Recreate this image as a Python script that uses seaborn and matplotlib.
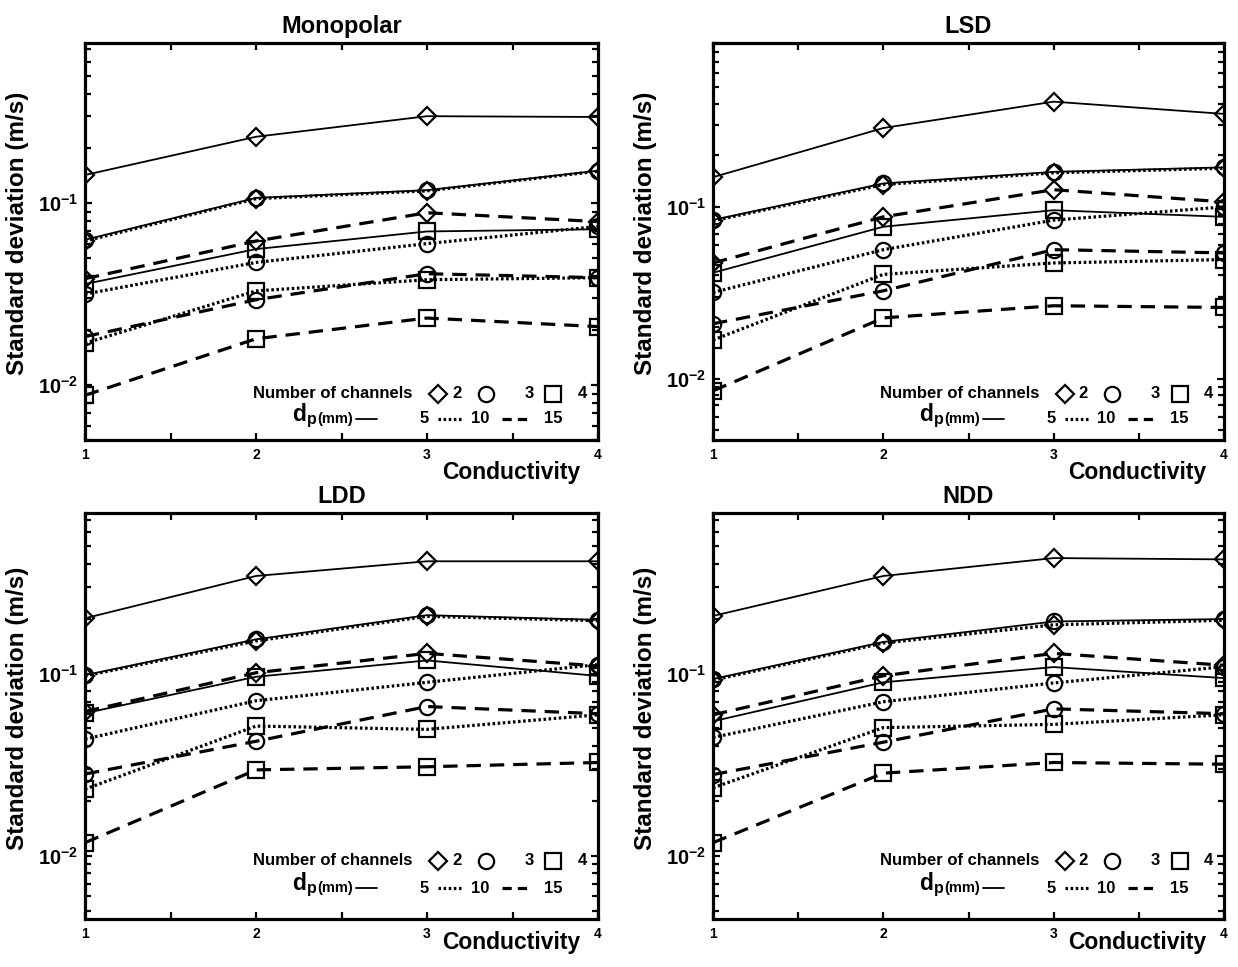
import matplotlib
matplotlib.use("Agg")
import matplotlib.pyplot as plt
import seaborn as sns
from matplotlib.lines import Line2D
from matplotlib.ticker import FixedLocator, FixedFormatter, NullFormatter

conductivity = [1, 2, 3, 4]

# standard deviation (m/s) per electrode config, channels (c) and dp in mm (d)
mono_c2_d5 = [0.143, 0.232, 0.301, 0.298]
mono_c3_d5 = [0.063, 0.107, 0.118, 0.151]
mono_c4_d5 = [0.036, 0.056, 0.070, 0.072]
mono_c2_d10 = [0.062, 0.106, 0.117, 0.150]
mono_c3_d10 = [0.0317, 0.0473, 0.060, 0.0746]
mono_c4_d10 = [0.017, 0.033, 0.038, 0.039]
mono_c2_d15 = [0.0385, 0.062, 0.0887, 0.0793]
mono_c3_d15 = [0.0185, 0.0295, 0.041, 0.039]
mono_c4_d15 = [0.0088, 0.0180, 0.0234, 0.0210]

lsd_c2_d5 = [0.149, 0.288, 0.410, 0.348]
lsd_c3_d5 = [0.084, 0.137, 0.160, 0.170]
lsd_c4_d5 = [0.0414, 0.0767, 0.0957, 0.0876]
lsd_c2_d10 = [0.083, 0.135, 0.158, 0.168]
lsd_c3_d10 = [0.0318, 0.0564, 0.0838, 0.100]
lsd_c4_d10 = [0.0168, 0.0405, 0.0472, 0.0494]
lsd_c2_d15 = [0.0472, 0.0876, 0.126, 0.107]
lsd_c3_d15 = [0.0209, 0.0325, 0.0564, 0.054]
lsd_c4_d15 = [0.0085, 0.0226, 0.0266, 0.026]

ldd_c2_d5 = [0.201, 0.343, 0.413, 0.413]
ldd_c3_d5 = [0.098, 0.154, 0.209, 0.197]
ldd_c4_d5 = [0.0606, 0.096, 0.118, 0.097]
ldd_c2_d10 = [0.097, 0.151, 0.206, 0.195]
ldd_c3_d10 = [0.0437, 0.0709, 0.0895, 0.112]
ldd_c4_d10 = [0.0232, 0.0515, 0.0494, 0.0594]
ldd_c2_d15 = [0.0619, 0.101, 0.129, 0.110]
ldd_c3_d15 = [0.0281, 0.0425, 0.0659, 0.0602]
ldd_c4_d15 = [0.0118, 0.0296, 0.0308, 0.0325]

ndd_c2_d5 = [0.207, 0.343, 0.430, 0.423]
ndd_c3_d5 = [0.0933, 0.149, 0.193, 0.199]
ndd_c4_d5 = [0.0547, 0.0895, 0.1085, 0.0944]
ndd_c2_d10 = [0.092, 0.147, 0.185, 0.196]
ndd_c3_d10 = [0.0446, 0.070, 0.0888, 0.109]
ndd_c4_d10 = [0.0236, 0.0505, 0.0526, 0.0594]
ndd_c2_d15 = [0.0594, 0.0972, 0.129, 0.111]
ndd_c3_d15 = [0.0279, 0.042, 0.064, 0.0602]
ndd_c4_d15 = [0.0118, 0.0284, 0.0325, 0.0318]

panels = [
    ("Monopolar", [mono_c2_d5, mono_c3_d5, mono_c4_d5, mono_c2_d10, mono_c3_d10,
                   mono_c4_d10, mono_c2_d15, mono_c3_d15, mono_c4_d15], (0.005, 0.76)),
    ("LSD", [lsd_c2_d5, lsd_c3_d5, lsd_c4_d5, lsd_c2_d10, lsd_c3_d10,
             lsd_c4_d10, lsd_c2_d15, lsd_c3_d15, lsd_c4_d15], (0.0044, 0.9)),
    ("LDD", [ldd_c2_d5, ldd_c3_d5, ldd_c4_d5, ldd_c2_d10, ldd_c3_d10,
             ldd_c4_d10, ldd_c2_d15, ldd_c3_d15, ldd_c4_d15], (0.0045, 0.76)),
    ("NDD", [ndd_c2_d5, ndd_c3_d5, ndd_c4_d5, ndd_c2_d10, ndd_c3_d10,
             ndd_c4_d10, ndd_c2_d15, ndd_c3_d15, ndd_c4_d15], (0.0045, 0.76)),
]
series_channels = [2, 3, 4, 2, 3, 4, 2, 3, 4]
series_dp = [5, 5, 5, 10, 10, 10, 15, 15, 15]

markers = {2: "D", 3: "o", 4: "s"}
msize = {2: 9.5, 3: 11, 4: 11}
lines = {5: dict(linestyle="-", linewidth=1.3),
         10: dict(linestyle=(0, (0.8, 0.8)), linewidth=2.3),
         15: dict(linestyle=(0, (4.5, 2.8)), linewidth=2.3)}
key_lines = {5: dict(linestyle="-", linewidth=1.3),
             10: dict(linestyle=(0, (0.8, 0.8)), linewidth=2.3),
             15: dict(linestyle=(0, (2.9, 1.9)), linewidth=2.3)}

sns.set_style("ticks")
plt.rcParams["font.family"] = ["Liberation Sans", "DejaVu Sans"]
plt.rcParams["font.weight"] = "bold"
plt.rcParams["mathtext.fontset"] = "custom"
plt.rcParams["mathtext.rm"] = "Liberation Sans:bold"
plt.rcParams["mathtext.bf"] = "Liberation Sans:bold"
for key in ["text.color", "axes.labelcolor", "xtick.color", "ytick.color", "axes.edgecolor"]:
    plt.rcParams[key] = "black"

fig = plt.figure(figsize=(12.38, 9.67), dpi=100)
W, H = 1238, 967
# axes boxes in pixels: left, right, top, bottom; key rows and xlabel offset in axes units
boxes = [(85, 598, 43, 440), (713, 1224, 43, 440), (85, 598, 513, 919), (713, 1224, 513, 919)]
keys = [(0.117, 0.054, -0.083), (0.117, 0.054, -0.083), (0.144, 0.076, -0.057), (0.144, 0.076, -0.057)]


def draw_key(ax, y1, y2):
    t = ax.transAxes
    kw = dict(transform=t, va="center", fontsize=12, fontweight="bold", clip_on=False)
    ax.text(0.638, y1, "Number of channels", ha="right", **kw)
    for xm, xt, n, lab in [(0.688, 0.725, 2, "2"), (0.781, 0.866, 3, "3"), (0.913, 0.970, 4, "4")]:
        ax.add_line(Line2D([xm], [y1], transform=t, marker=markers[n], markersize=msize[n],
                           markerfacecolor="none", markeredgecolor="k", markeredgewidth=1.6,
                           linestyle="none", clip_on=False))
        ax.text(xt, y1, lab, ha="center", **kw)
    ax.text(0.453, y2 - 0.006, r"$\mathbf{d_{p}}$", ha="right", va="baseline", transform=t,
            fontsize=16.5, clip_on=False)
    ax.text(0.522, y2, "(mm)", ha="right", transform=t, va="center", fontsize=10.5,
            fontweight="bold", clip_on=False)
    for (x0, x1), xt, d, lab in [((0.528, 0.569), 0.661, 5, "5"), ((0.688, 0.735), 0.770, 10, "10"),
                                 ((0.812, 0.862), 0.912, 15, "15")]:
        ax.add_line(Line2D([x0, x1], [y2, y2], transform=t, color="k", clip_on=False, **key_lines[d]))
        ax.text(xt, y2, lab, ha="center", **kw)


for (title, series, ylim), (x0, x1, y0, y1b), (k1, k2, xl) in zip(panels, boxes, keys):
    ax = fig.add_axes([x0 / W, 1 - y1b / H, (x1 - x0) / W, (y1b - y0) / H])
    for vals, n, d in zip(series, series_channels, series_dp):
        sns.lineplot(x=conductivity, y=vals, ax=ax, color="k", marker=markers[n],
                     markersize=msize[n], markerfacecolor="none", markeredgecolor="k",
                     markeredgewidth=1.6, **lines[d])
    ax.set_yscale("log")
    ax.set_xlim(1, 4)
    ax.set_ylim(*ylim)
    ax.xaxis.set_major_locator(FixedLocator([1, 1.5, 2, 2.5, 3, 3.5, 4]))
    ax.xaxis.set_major_formatter(FixedFormatter(["1", "", "2", "", "3", "", "4"]))
    ax.yaxis.set_major_locator(FixedLocator([0.01, 0.1]))
    ax.yaxis.set_major_formatter(FixedFormatter([r"$\mathbf{10^{-2}}$", r"$\mathbf{10^{-1}}$"]))
    minors = [k * 10.0 ** e for e in (-3, -2, -1) for k in range(2, 10)]
    ax.yaxis.set_minor_locator(FixedLocator(minors))
    ax.yaxis.set_minor_formatter(NullFormatter())
    ax.tick_params(which="both", direction="in", top=True, right=True, width=1.6, color="k")
    ax.tick_params(which="major", length=5)
    ax.tick_params(which="minor", length=4)
    ax.tick_params(axis="x", labelsize=10, pad=6)
    ax.tick_params(axis="y", labelsize=14.5, pad=5)
    for s in ax.spines.values():
        s.set_linewidth(2.3)
        s.set_color("k")
    ax.set_title(title, fontsize=17, fontweight="bold", pad=7)
    ax.set_ylabel("Standard deviation (m/s)", fontsize=17.5, fontweight="bold")
    ax.yaxis.set_label_coords(-0.11, 0.52)
    ax.set_xlabel("")
    ax.text(0.965, xl, "Conductivity", transform=ax.transAxes, ha="right", va="center",
            fontsize=16.5, fontweight="bold")
    draw_key(ax, k1, k2)

fig.savefig("out.png", dpi=100)
